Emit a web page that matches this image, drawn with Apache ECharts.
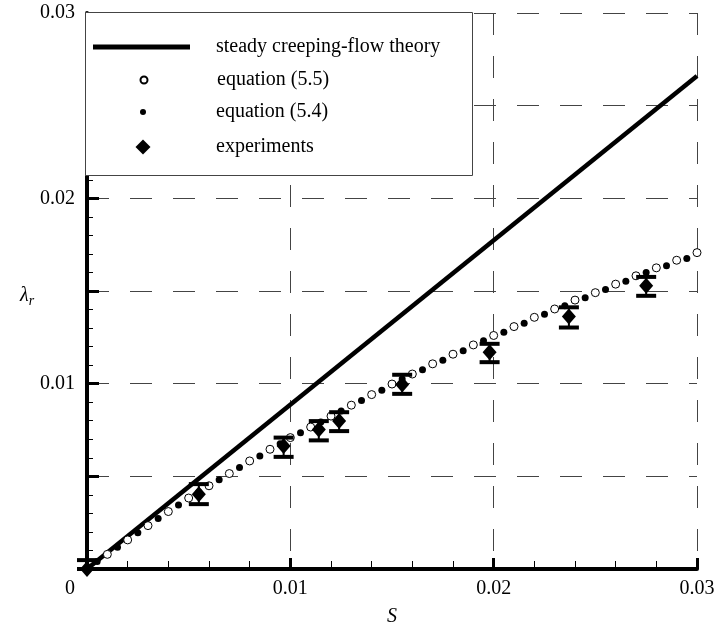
<!DOCTYPE html>
<html>
<head>
<meta charset="utf-8">
<script src="https://cdn.jsdelivr.net/npm/echarts@6/dist/echarts.min.js"></script>
<style>
  html, body { margin: 0; padding: 0; background: #fff; }
  #chart { width: 719px; height: 632px; }
</style>
</head>
<body>
<div id="chart"></div>
<script>
  // steady creeping-flow theory (straight line)
  const theoryS = [0, 0.03];
  const theoryL = [0, 0.0266];

  // equation (5.5) - open circles
  const eq55S = [0, 0.001, 0.002, 0.003, 0.004, 0.005, 0.006, 0.007, 0.008, 0.009, 0.010,
    0.011, 0.012, 0.013, 0.014, 0.015, 0.016, 0.017, 0.018, 0.019, 0.020,
    0.021, 0.022, 0.023, 0.024, 0.025, 0.026, 0.027, 0.028, 0.029, 0.030];
  const eq55L = [0, 0.00079, 0.00157, 0.00234, 0.0031, 0.00383, 0.00449, 0.00515, 0.00583, 0.00646, 0.00709,
    0.00766, 0.00825, 0.00884, 0.00941, 0.00998, 0.01052, 0.01107, 0.01159, 0.01209, 0.0126,
    0.01308, 0.01358, 0.01403, 0.01451, 0.01491, 0.01537, 0.01582, 0.01625, 0.01666, 0.01707];

  // equation (5.4) - filled dots
  const eq54S = [0.0005, 0.0015, 0.0025, 0.0035, 0.0045, 0.0055, 0.0065, 0.0075, 0.0085, 0.0095,
    0.0105, 0.0115, 0.0125, 0.0135, 0.0145, 0.0155, 0.0165, 0.0175, 0.0185, 0.0195,
    0.0205, 0.0215, 0.0225, 0.0235, 0.0245, 0.0255, 0.0265, 0.0275, 0.0285, 0.0295];
  const eq54L = [0.0004, 0.00118, 0.00196, 0.00272, 0.00345, 0.00416, 0.00481, 0.00547, 0.0061, 0.00676,
    0.00735, 0.00793, 0.00852, 0.00909, 0.00965, 0.01025, 0.01075, 0.01126, 0.01177, 0.01231,
    0.01278, 0.01326, 0.01374, 0.01421, 0.01464, 0.01508, 0.01553, 0.016, 0.01636, 0.01675];

  // experiments with error bars
  const expS = [0, 0.0055, 0.00967, 0.0114, 0.0124, 0.0155, 0.0198, 0.0237, 0.0275];
  const expL = [0, 0.00404, 0.00664, 0.00753, 0.00798, 0.00995, 0.0117, 0.01362, 0.01528];
  const expLo = [0, 0.0035, 0.00605, 0.00694, 0.00744, 0.00945, 0.01116, 0.01303, 0.01474];
  const expHi = [0.00048, 0.00458, 0.00709, 0.00798, 0.00846, 0.01048, 0.01215, 0.01412, 0.01576];

  const xTicks = [0, 0.01, 0.02, 0.03];

  const font = "'Liberation Serif', 'DejaVu Serif', serif";
  const zip = (a, b) => a.map((v, i) => [v, b[i]]);

  const chart = echarts.init(document.getElementById('chart'));

  const legendText = pad => ({ fontFamily: font, fontSize: 20, color: '#000', lineHeight: 20, padding: [0, 0, 0, pad] });

  const option = {
    backgroundColor: '#fff',
    animation: false,
    grid: { left: 87, right: 22, top: 13, bottom: 60 },
    xAxis: {
      type: 'value',
      min: 0,
      max: 0.03,
      interval: 0.01,
      name: 'S',
      nameLocation: 'middle',
      nameGap: 38,
      nameTextStyle: { fontFamily: font, fontSize: 20, fontStyle: 'italic', color: '#000' },
      axisLine: { show: true, lineStyle: { color: '#000', width: 4 } },
      axisTick: { show: true, inside: true, length: 11, lineStyle: { color: '#000', width: 3 } },
      minorTick: { show: true, splitNumber: 5, length: 8, lineStyle: { color: '#000', width: 1 } },
      axisLabel: {
        fontFamily: font, fontSize: 20, color: '#000', margin: 10,
        formatter: v => {
          const i = xTicks.findIndex(t => Math.abs(t - v) < 1e-9);
          if (i === 0) return '{z|0}';
          return i > 0 ? xTicks[i].toFixed(2) : '';
        },
        rich: { z: { fontFamily: font, fontSize: 20, color: '#000', padding: [0, 34, 0, 0] } }
      },
      splitLine: { show: true, lineStyle: { color: '#444', width: 1, type: [22, 21] } }
    },
    yAxis: {
      type: 'value',
      min: 0,
      max: 0.03,
      interval: 0.005,
      name: '{l|λ}{r|r}',
      nameLocation: 'middle',
      nameRotate: 0,
      nameGap: 44,
      nameTextStyle: {
        padding: [10, 0, 0, 0],
        rich: {
          l: { fontFamily: font, fontSize: 20, fontStyle: 'italic', color: '#000' },
          r: { fontFamily: font, fontSize: 14, fontStyle: 'italic', color: '#000', padding: [10, 0, 0, 0] }
        }
      },
      axisLine: { show: true, lineStyle: { color: '#000', width: 4 } },
      axisTick: { show: true, inside: true, length: 12, lineStyle: { color: '#000', width: 3 } },
      minorTick: { show: true, splitNumber: 5, length: 6, lineStyle: { color: '#000', width: 1 } },
      axisLabel: {
        fontFamily: font, fontSize: 20, color: '#000', margin: 12,
        formatter: v => {
          const k = Math.round(v * 1000);
          return (k > 0 && k % 10 === 0) ? (k / 1000).toFixed(2) : '';
        }
      },
      splitLine: { show: true, lineStyle: { color: '#444', width: 1, type: [22, 21] } }
    },
    graphic: [{
      type: 'rect',
      z: 10,
      shape: { x: 85.5, y: 12.5, width: 387, height: 163 },
      style: { fill: '#fff', stroke: '#444', lineWidth: 1 }
    }],
    legend: [
      {
        data: ['steady creeping-flow theory'], z: 20, padding: 0, selectedMode: false,
        left: 93, top: 37, itemWidth: 97, itemHeight: 5, icon: 'rect',
        textStyle: legendText(21)
      },
      {
        data: ['equation (5.5)'], z: 20, padding: 0, selectedMode: false,
        left: 139.5, top: 70, itemWidth: 7, itemHeight: 7,
        textStyle: legendText(64.5)
      },
      {
        data: ['equation (5.4)'], z: 20, padding: 0, selectedMode: false,
        left: 140, top: 102, itemWidth: 6, itemHeight: 6,
        textStyle: legendText(65)
      },
      {
        data: ['experiments'], z: 20, padding: 0, selectedMode: false,
        left: 135.5, top: 137, itemWidth: 15, itemHeight: 15,
        textStyle: legendText(60.5)
      }
    ],
    series: [
      {
        name: 'steady creeping-flow theory',
        type: 'line',
        data: zip(theoryS, theoryL),
        symbol: 'none',
        showSymbol: false,
        color: '#000',
        itemStyle: { color: '#000' },
        lineStyle: { color: '#000', width: 4.5 },
        z: 3
      },
      {
        name: 'equation (5.5)',
        type: 'scatter',
        data: zip(eq55S, eq55L),
        symbol: 'circle',
        symbolSize: 8,
        itemStyle: { color: '#fff', borderColor: '#000', borderWidth: 1, opacity: 1 },
        z: 4
      },
      {
        name: 'equation (5.4)',
        type: 'scatter',
        data: zip(eq54S, eq54L),
        symbol: 'circle',
        symbolSize: 7,
        itemStyle: { color: '#000', opacity: 1 },
        z: 4
      },
      {
        name: 'errorbars',
        type: 'custom',
        data: expS.map((s, i) => [s, expLo[i], expHi[i]]),
        encode: { x: 0, y: [1, 2] },
        renderItem: (params, api) => {
          const lo = api.coord([api.value(0), api.value(1)]);
          const hi = api.coord([api.value(0), api.value(2)]);
          const hw = 10;
          const st = { stroke: '#000', lineWidth: 4 };
          return {
            type: 'group',
            children: [
              { type: 'line', shape: { x1: lo[0], y1: lo[1], x2: hi[0], y2: hi[1] }, style: { stroke: '#000', lineWidth: 2 } },
              { type: 'line', shape: { x1: lo[0] - hw, y1: lo[1], x2: lo[0] + hw, y2: lo[1] }, style: st },
              { type: 'line', shape: { x1: hi[0] - hw, y1: hi[1], x2: hi[0] + hw, y2: hi[1] }, style: st }
            ]
          };
        },
        z: 5
      },
      {
        name: 'experiments',
        type: 'scatter',
        data: zip(expS, expL),
        symbol: 'diamond',
        symbolSize: [14, 16],
        itemStyle: { color: '#000', opacity: 1 },
        clip: false,
        z: 6
      }
    ]
  };

  chart.setOption(option);
</script>
</body>
</html>
